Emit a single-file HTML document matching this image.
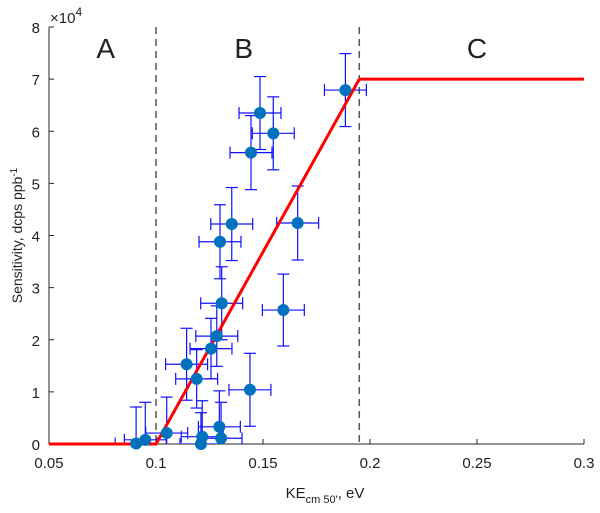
<!DOCTYPE html>
<html><head><meta charset="utf-8"><style>
body{margin:0;background:#fff;}
svg text{font-family:"Liberation Sans",Arial,sans-serif;fill:#222;}
</style></head><body>
<svg id="chart" width="600" height="508" xmlns="http://www.w3.org/2000/svg"></svg>
<script>
const xVals=[0.1885,0.1486,0.1548,0.1444,0.1354,0.1662,0.1299,0.1307,0.1595,0.1284,0.1257,0.1143,0.1190,0.1439,0.1296,0.105,0.1216,0.1304,0.121,0.095,0.0907];
const yVals=[6.79,6.35,5.96,5.59,4.22,4.24,3.88,2.70,2.57,2.07,1.83,1.53,1.25,1.04,0.33,0.21,0.14,0.11,0.0,0.08,0.01];
const yErr=[0.70,0.70,0.70,0.71,0.70,0.71,0.71,0.70,0.69,0.58,0.58,0.69,0.56,0.70,0.69,0.69,0.69,0.69,0.6,0.72,0.7];
const xErr=[0.0098,0.0098,0.0098,0.0098,0.0098,0.0098,0.0098,0.0098,0.0098,0.0098,0.0098,0.0098,0.0098,0.0098,0.0098,0.0098,0.0098,0.0098,0.0098,0.0098,0.0098];
const fitX=[0.05,0.1,0.195,0.3];
const fitY=[0,0,7,7];
const xTicks=[0.05,0.1,0.15,0.2,0.25,0.3];
const xTickLabels=["0.05","0.1","0.15","0.2","0.25","0.3"];
const yTicks=[0,1,2,3,4,5,6,7,8];
const regionLines=[0.1,0.195];
const regionLabels=["A","B","C"];
const regionLabelX=[0.0765,0.141,0.25];

const L=49,R=584,T=27,B=444;
const sx=x=>L+(x-0.05)/0.25*(R-L);
const sy=y=>B-y/8*(B-T);
const svg=document.getElementById('chart');
const NS='http://www.w3.org/2000/svg';
function mk(tag,attrs,parent){const e=document.createElementNS(NS,tag);for(const k in attrs)e.setAttribute(k,attrs[k]);(parent||svg).appendChild(e);return e;}
const defs=mk('defs',{});
const cp=mk('clipPath',{id:'clip'},defs);
mk('rect',{x:L,y:T,width:R-L,height:B-T},cp);

let ax=mk('line',{x1:L,y1:T,x2:L,y2:B,stroke:'#262626','stroke-width':1});


ax=mk('line',{x1:L,y1:B,x2:R,y2:B,stroke:'#262626','stroke-width':1});


xTicks.forEach((t,i)=>{
  mk('line',{x1:sx(t),y1:B,x2:sx(t),y2:B-5,stroke:'#262626'});
  const tx=mk('text',{x:sx(t),y:B+24,'text-anchor':'middle','font-size':15});
  tx.textContent=xTickLabels[i];
  
  
});
yTicks.forEach(t=>{
  mk('line',{x1:L,y1:sy(t),x2:L+5,y2:sy(t),stroke:'#262626'});
  const tx=mk('text',{x:L-9,y:sy(t)+6,'text-anchor':'end','font-size':15});
  tx.textContent=String(t);
  
  
});
const ex=mk('text',{x:L+1,y:T-4,'font-size':15});
ex.innerHTML='×10<tspan dy="-7" font-size="12">4</tspan>';


const yt=mk('text',{transform:`translate(22,${(T+B)/2}) rotate(-90)`,'text-anchor':'middle','font-size':14});
yt.innerHTML='Sensitivity, dcps ppb<tspan dy="-5" font-size="10">-1</tspan>';


const xt=mk('text',{x:325,y:498,'text-anchor':'middle','font-size':15});
xt.innerHTML='KE<tspan dy="5" font-size="11">cm 50\'</tspan><tspan dy="-5">, eV</tspan>';



regionLines.forEach(v=>{
  const l=mk('line',{x1:sx(v),y1:T,x2:sx(v),y2:B,stroke:'#555','stroke-width':1.5,'stroke-dasharray':'7,5'});
  
  
});
regionLabels.forEach((s,i)=>{
  const t=mk('text',{x:sx(regionLabelX[i]),y:58,'text-anchor':'middle','font-size':28});
  t.textContent=s;
  
  
});

const g=mk('g',{'clip-path':'url(#clip)'});
xVals.forEach((x,i)=>{
  const eb=mk('g',{stroke:'#1010ff','stroke-width':1.2},g);
  
  
  const cx=sx(x),cy=sy(yVals[i]),y1=sy(yVals[i]+yErr[i]),y2=sy(yVals[i]-yErr[i]),x1=sx(x-xErr[i]),x2=sx(x+xErr[i]);
  mk('line',{x1:cx,y1:y1,x2:cx,y2:y2},eb);
  mk('line',{x1:cx-6,y1:y1,x2:cx+6,y2:y1},eb);
  mk('line',{x1:cx-6,y1:y2,x2:cx+6,y2:y2},eb);
  mk('line',{x1:x1,y1:cy,x2:x2,y2:cy},eb);
  mk('line',{x1:x1,y1:cy-6,x2:x1,y2:cy+6},eb);
  mk('line',{x1:x2,y1:cy-6,x2:x2,y2:cy+6},eb);
});
const fl=mk('polyline',{points:fitX.map((x,i)=>sx(x)+','+sy(fitY[i])).join(' '),fill:'none',stroke:'#ff0000','stroke-width':3});


xVals.forEach((x,i)=>{
  const c=mk('circle',{cx:sx(x),cy:sy(yVals[i]),r:6,fill:'#0072bd'});
  
  
});
</script>
</body></html>
